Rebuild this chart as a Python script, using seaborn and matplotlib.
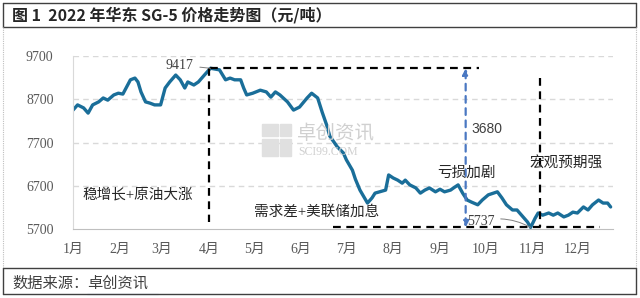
import numpy as np
import pandas as pd
import matplotlib
matplotlib.use("Agg")
import matplotlib.pyplot as plt
import matplotlib.dates as mdates
from matplotlib.lines import Line2D
from matplotlib.patches import Rectangle
import seaborn as sns

# SG-5 East China price
dates = [
    "2022-01-01", "2022-01-04", "2022-01-08", "2022-01-11", "2022-01-14", "2022-01-18",
    "2022-01-21", "2022-01-24", "2022-01-28", "2022-01-31", "2022-02-03", "2022-02-08",
    "2022-02-11", "2022-02-13", "2022-02-15", "2022-02-18", "2022-02-21", "2022-02-24",
    "2022-02-28", "2022-03-03", "2022-03-06", "2022-03-10", "2022-03-13", "2022-03-16",
    "2022-03-18", "2022-03-22", "2022-03-25", "2022-03-29", "2022-04-02", "2022-04-08",
    "2022-04-12", "2022-04-15", "2022-04-18", "2022-04-22", "2022-04-24", "2022-04-26",
    "2022-04-30", "2022-05-05", "2022-05-09", "2022-05-12", "2022-05-15", "2022-05-18",
    "2022-05-23", "2022-05-27", "2022-05-31", "2022-06-05", "2022-06-08", "2022-06-12",
    "2022-06-15", "2022-06-18", "2022-06-20", "2022-06-25", "2022-06-29", "2022-07-01",
    "2022-07-05", "2022-07-07", "2022-07-10", "2022-07-13", "2022-07-15", "2022-07-18",
    "2022-07-20", "2022-07-23", "2022-07-27", "2022-07-29", "2022-08-01", "2022-08-04",
    "2022-08-07", "2022-08-09", "2022-08-12", "2022-08-16", "2022-08-19", "2022-08-22",
    "2022-08-25", "2022-08-29", "2022-09-01", "2022-09-04", "2022-09-08", "2022-09-10",
    "2022-09-13", "2022-09-16", "2022-09-19", "2022-09-22", "2022-09-26", "2022-09-29",
    "2022-10-03", "2022-10-09", "2022-10-12", "2022-10-15", "2022-10-19", "2022-10-22",
    "2022-10-25", "2022-10-29", "2022-10-31", "2022-11-03", "2022-11-05", "2022-11-08",
    "2022-11-12", "2022-11-15", "2022-11-18", "2022-11-22", "2022-11-25", "2022-11-28",
    "2022-12-01", "2022-12-05", "2022-12-08", "2022-12-11", "2022-12-15", "2022-12-18",
    "2022-12-21", "2022-12-23",
]
prices = [
    8450, 8570, 8500, 8380, 8570, 8640,
    8730, 8680, 8800, 8840, 8820, 9150,
    9190, 9100, 8870, 8640, 8610, 8570,
    8570, 8960, 9100, 9260, 9150, 8960,
    9100, 9030, 9100, 9260, 9417, 9380,
    9150, 9190, 9150, 9150, 8960, 8800,
    8840, 8910, 8870, 8750, 8870, 8800,
    8640, 8450, 8520, 8730, 8840, 8730,
    8400, 8100, 7850, 7600, 7460, 7300,
    7060, 6850, 6600, 6420, 6300, 6420,
    6530, 6560, 6600, 6950, 6880, 6830,
    6760, 6830, 6720, 6650, 6530, 6600,
    6650, 6560, 6620, 6560, 6600, 6650,
    6720, 6530, 6370, 6320, 6260, 6370,
    6490, 6560, 6420, 6260, 6140, 6140,
    6020, 5860, 5737, 5950, 6070, 6020,
    6070, 6020, 6070, 5980, 6020, 6090,
    6070, 6210, 6140, 6260, 6370, 6300,
    6300, 6210,
]
month_labels = ["1月", "2月", "3月", "4月", "5月", "6月",
                "7月", "8月", "9月", "10月", "11月", "12月"]
y_ticks = [5700, 6700, 7700, 8700, 9700]

peak_date, peak_val = "2022-04-02", 9417
low_date, low_val = "2022-10-31", 5737

df = pd.DataFrame({"date": pd.to_datetime(dates), "price": prices})

sns.set_style("white")
plt.rcParams["font.family"] = ["Liberation Serif", "Noto Sans CJK SC", "DejaVu Sans"]

fig = plt.figure(figsize=(6.4, 2.98), dpi=100)
ax = fig.add_axes([0.1141, 0.2315, 0.8438, 0.5805])

sns.lineplot(data=df, x="date", y="price", ax=ax, color="#1a6e99", linewidth=2.4)

d = lambda s: mdates.date2num(pd.Timestamp(s))
x0 = d("2022-01-01")
ax.set_xlim(x0, x0 + 357.6)
ax.set_ylim(5700, 9700)

month_starts = [d(f"2022-{m:02d}-01") for m in range(1, 13)]
ax.set_xticks(month_starts)
ax.set_xticklabels(month_labels)
ax.set_yticks(y_ticks)
ax.set_yticklabels([str(v) for v in y_ticks])
ax.tick_params(axis="x", colors="#bfbfbf", length=3, width=0.8, pad=7,
               labelcolor="#595959", labelsize=10)
ax.tick_params(axis="y", length=0, pad=14, labelcolor="#595959", labelsize=10)
ax.set_xlabel("")
ax.set_ylabel("")

for v in y_ticks[1:]:
    ax.axhline(v, color="#d9d9d9", lw=1, ls=(0, (4, 3)), zorder=0)
for s in ["top", "right"]:
    ax.spines[s].set_visible(False)
ax.spines["left"].set_color("#d9d9d9")
ax.spines["bottom"].set_color("#bfbfbf")

# annotation guides
dash = (0, (3.5, 2.5))
ax.plot([d(peak_date), d("2022-09-27")], [peak_val, peak_val], color="black", lw=1.6, ls=dash)
ax.plot([d("2022-04-01"), d("2022-04-01")], [peak_val, 5860], color="black", lw=1.6, ls=dash)
ax.plot([d("2022-06-22"), d("2022-12-16")], [low_val, low_val], color="black", lw=1.6, ls=dash)
ax.plot([d("2022-11-06"), d("2022-11-06")], [9190, low_val], color="black", lw=1.6, ls=dash)

ax.annotate("", xy=(d("2022-09-18"), peak_val), xytext=(d("2022-09-18"), low_val),
            arrowprops=dict(arrowstyle="<|-|>", color="#4a78c2", lw=1.6,
                            ls=(0, (3, 2.5)), mutation_scale=9, shrinkA=0, shrinkB=0))

ax.text(d("2022-09-22"), 8010, "3680", fontsize=10, color="#404040",
        family=["Liberation Sans"], va="center", ha="left")
ax.annotate("9417", xy=(d(peak_date), peak_val), xytext=(d("2022-03-22"), 9490),
            fontsize=10, color="#404040", ha="right", va="center",
            arrowprops=dict(arrowstyle="-", color="#7f7f7f", lw=0.7, shrinkA=2, shrinkB=0))
ax.annotate("5737", xy=(d(low_date), low_val), xytext=(d("2022-09-19"), 5880),
            fontsize=10, color="#404040", ha="left", va="center",
            arrowprops=dict(arrowstyle="-", color="#7f7f7f", lw=0.7, shrinkA=2, shrinkB=0,
                            connectionstyle="arc3,rad=-0.2"))

notes = [
    ("稳增长+原油大涨", "2022-01-07", 6490),
    ("需求差+美联储加息", "2022-05-01", 6095),
    ("亏损加剧", "2022-08-30", 7000),
    ("宏观预期强", "2022-10-30", 7230),
]
for txt, xd, yv in notes:
    ax.text(d(xd), yv, txt, fontsize=10.5, color="#262626", ha="left", va="center")

# watermark
fig.text(0.464, 0.553, "卓创资讯", fontsize=14, color="#d0d0d0", ha="left", va="center",
         family=["Noto Sans CJK SC"], zorder=0)
fig.text(0.466, 0.49, "SCI99.COM", fontsize=8.5, color="#d0d0d0", ha="left", va="center",
         zorder=0)
for (rx, ry, rw, rh) in [(0.41, 0.545, 0.024, 0.04), (0.437, 0.545, 0.017, 0.04),
                         (0.41, 0.475, 0.024, 0.06), (0.437, 0.475, 0.017, 0.06)]:
    fig.patches.append(Rectangle((rx, ry), rw, rh, transform=fig.transFigure,
                                 color="#e0e0e0", zorder=0))

# title bar, source bar and frame
fig.text(0.019, 0.95, "图 1  2022 年华东 SG-5 价格走势图（元/吨）", fontsize=11.5,
         fontweight="bold", color="#262626", ha="left", va="center",
         family=["Noto Sans CJK SC"])
fig.text(0.019, 0.05, "数据来源：", fontsize=11, color="#404040", ha="left",
         va="center", family=["Noto Sans CJK SC"])
fig.text(0.136, 0.05, "卓创资讯", fontsize=11, color="#404040", ha="left",
         va="center", family=["Noto Sans CJK SC"])
fig.add_artist(Line2D([0.136, 0.247], [0.012, 0.012], color="#4a78c2", lw=0.8))

def fy(py):
    return 1 - py / 298.0

for py, c in [(3, "#404040"), (27, "#404040"), (268, "#404040"), (294, "#404040")]:
    fig.add_artist(Line2D([3 / 640, 636 / 640], [fy(py), fy(py)], color=c, lw=1))
for px in [3, 636]:
    fig.add_artist(Line2D([px / 640, px / 640], [fy(3), fy(27)], color="#404040", lw=1))
    fig.add_artist(Line2D([px / 640, px / 640], [fy(27), fy(268)], color="#bfbfbf", lw=0.8,
                          ls=(0, (1, 1))))
    fig.add_artist(Line2D([px / 640, px / 640], [fy(268), fy(294)], color="#404040", lw=1))

fig.savefig("out.png", dpi=100)
